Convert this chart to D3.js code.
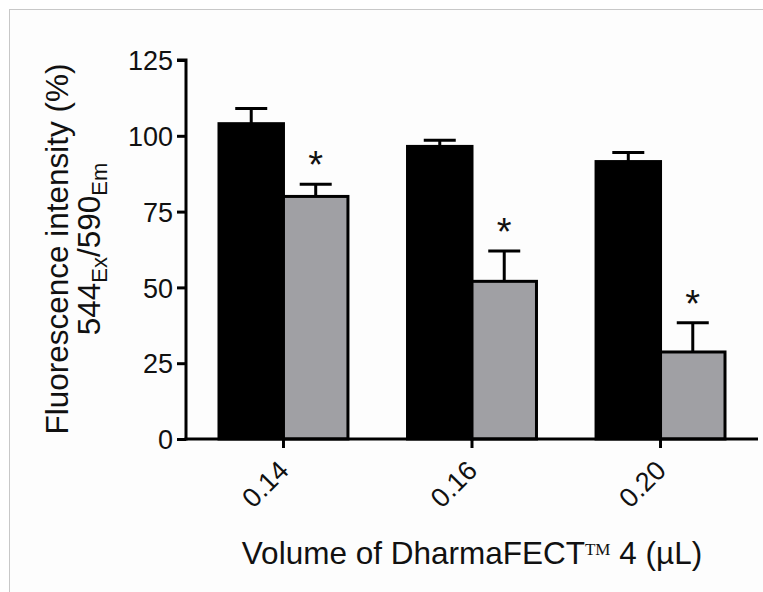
<!DOCTYPE html>
<html>
<head>
<meta charset="utf-8">
<script src="https://cdn.jsdelivr.net/npm/d3@7"></script>
<style>
    body { margin: 0; background: #fff; }
    svg text { font-family: "Liberation Sans", Arial, sans-serif; fill: #111; }
</style>
</head>
<body>
<svg id="chart" width="763" height="592"></svg>
<script>
const categories = ['0.14', '0.16', '0.20'];
const seriesNames = ['control', 'treated'];
const controlValues = [104, 96.5, 91.5];
const controlErrors = [5, 2, 3];
const treatedValues = [80, 52, 28.7];
const treatedErrors = [4, 10, 9.6];
const significant = [true, true, true];
const yTicks = [0, 25, 50, 75, 100, 125];

const colors = { control: '#000000', treated: '#a0a0a4' };

const rows = categories.map((c, i) => ({
    cat: c,
    bars: [
        { key: 'control', value: controlValues[i], err: controlErrors[i], star: false },
        { key: 'treated', value: treatedValues[i], err: treatedErrors[i], star: significant[i] },
    ],
}));

const svg = d3.select('#chart');

// frame
svg.append('rect')
    .attr('x', 9.5).attr('y', 9.5)
    .attr('width', 800).attr('height', 700)
    .style('fill', '#fdfdfd')
    .style('stroke', '#c8c8c8')
    .style('stroke-width', 1);

const x0 = 186, x1 = 758;
const yBase = 439, yTop = 60;

const x = d3.scaleBand()
    .domain(categories)
    .range([x0, x1])
    .paddingInner(0.316)
    .paddingOuter(0.175);

const xs = d3.scaleBand()
    .domain(seriesNames)
    .range([0, x.bandwidth()]);

const y = d3.scaleLinear()
    .domain([0, 125])
    .range([yBase, yTop]);

const group = svg.selectAll('.grp')
    .data(rows).enter().append('g')
    .attr('class', 'grp')
    .attr('transform', d => `translate(${x(d.cat)},0)`);

const bar = group.selectAll('.bar')
    .data(d => d.bars).enter().append('g')
    .attr('class', 'bar');

bar.append('rect')
    .attr('x', d => xs(d.key))
    .attr('y', d => y(d.value))
    .attr('width', xs.bandwidth())
    .attr('height', d => y(0) - y(d.value))
    .style('fill', d => colors[d.key])
    .style('stroke', '#000')
    .style('stroke-width', 3);

// error bars (upper only)
bar.append('line')
    .attr('x1', d => xs(d.key) + xs.bandwidth() / 2)
    .attr('x2', d => xs(d.key) + xs.bandwidth() / 2)
    .attr('y1', d => y(d.value))
    .attr('y2', d => y(d.value + d.err))
    .style('stroke', '#000')
    .style('stroke-width', 3);

bar.append('line')
    .attr('x1', d => xs(d.key) + xs.bandwidth() / 2 - 16)
    .attr('x2', d => xs(d.key) + xs.bandwidth() / 2 + 16)
    .attr('y1', d => y(d.value + d.err))
    .attr('y2', d => y(d.value + d.err))
    .style('stroke', '#000')
    .style('stroke-width', 3);

bar.filter(d => d.star).append('text')
    .text('*')
    .attr('x', d => xs(d.key) + xs.bandwidth() / 2)
    .attr('y', d => y(d.value + d.err) - 6)
    .attr('text-anchor', 'middle')
    .attr('font-size', '38px');

// axes
const yAxis = svg.append('g')
    .attr('transform', `translate(${x0},0)`)
    .call(d3.axisLeft(y).tickValues(yTicks).tickSize(9).tickPadding(4));

const xAxis = svg.append('g')
    .attr('transform', `translate(0,${yBase})`)
    .call(d3.axisBottom(x).tickSize(9).tickSizeOuter(0).tickPadding(4));

[yAxis, xAxis].forEach(ax => {
    ax.select('.domain').style('stroke', '#000').style('stroke-width', 3);
    ax.selectAll('.tick line').style('stroke', '#000').style('stroke-width', 3);
});
yAxis.select('.domain').attr('d', `M-9,${y(125)}H0V${y(0) + 1.5}`);
xAxis.select('.domain').attr('d', `M${x0 - 1.5},0H${x1}`);

yAxis.selectAll('.tick text')
    .attr('font-size', '27px')
    .attr('dy', '0.36em')
    .style('fill', '#111');

xAxis.selectAll('.tick text')
    .attr('font-size', '27px')
    .attr('text-anchor', 'end')
    .attr('dy', 0)
    .attr('transform', 'translate(7,33) rotate(-45)')
    .attr('y', 0)
    .style('fill', '#111');

// axis titles
const yCenter = 249;
svg.append('text')
    .attr('transform', `translate(68,${yCenter}) rotate(-90)`)
    .attr('text-anchor', 'middle')
    .attr('font-size', '31.5px')
    .text('Fluorescence intensity (%)');

const sub = svg.append('text')
    .attr('transform', `translate(100,${yCenter}) rotate(-90)`)
    .attr('text-anchor', 'middle')
    .attr('font-size', '31.5px');
sub.append('tspan').text('544');
sub.append('tspan').attr('font-size', '22px').attr('dy', 7).text('Ex');
sub.append('tspan').attr('dy', -7).text('/590');
sub.append('tspan').attr('font-size', '22px').attr('dy', 7).text('Em');

const xt = svg.append('text')
    .attr('x', 472)
    .attr('y', 564)
    .attr('text-anchor', 'middle')
    .attr('font-size', '31.5px');
xt.append('tspan').text('Volume of DharmaFECT');
xt.append('tspan')
    .attr('font-family', '"Liberation Serif", "Times New Roman", serif')
    .attr('font-size', '17px')
    .attr('dy', -9)
    .text('TM');
xt.append('tspan').attr('dy', 9).text('\u00a04 (\u00b5L)');
</script>
</body>
</html>
